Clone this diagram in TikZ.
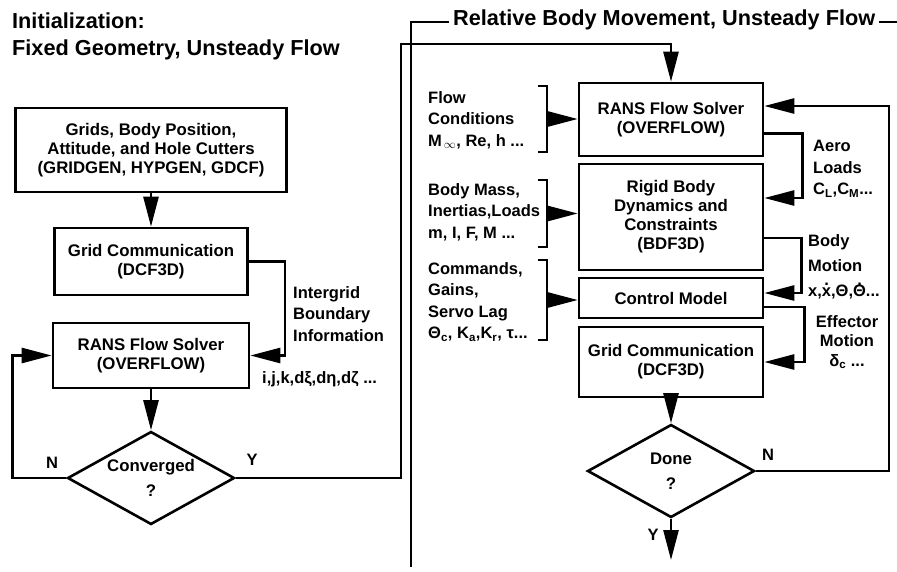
\documentclass[tikz,border=0pt]{standalone}
\usepackage{fontspec}
\setmainfont{Liberation Sans}
\usetikzlibrary{arrows.meta,shapes.geometric}
\NewDocumentCommand{\drawbracket}{m m m m}{
    \def\bx{#1}
    \def\btop{#2}
    \def\bbot{#3}
    \draw[bracket] (\bx-9,\btop) -- (\bx,\btop) -- (\bx,\bbot) -- (\bx-9,\bbot);
    \coordinate (#4) at (\bx,{(\btop+\bbot)/2});
}
\newcommand{\dotover}[1]{\ooalign{#1\cr\hidewidth\raisebox{0.66em}{.}\hidewidth\cr}}

\begin{document}
\begin{tikzpicture}[x=1pt, y=-1pt,
        box/.style={draw, line width=2.6pt, inner sep=0pt, align=center,
            font=\fontsize{16.8}{19}\selectfont\bfseries},
        decision/.style={diamond, draw, line width=2.6pt, aspect=1.8, inner sep=0pt,
            minimum width=167pt, minimum height=93pt, align=center,
            font=\fontsize{16.8}{25}\selectfont\bfseries},
        lbl/.style={inner sep=0pt, align=left, anchor=north west,
            font=\fontsize{16.5}{21.5}\selectfont\bfseries},
        yn/.style={inner sep=0pt, font=\fontsize{16.5}{19}\selectfont\bfseries},
        heading/.style={inner sep=0pt, align=left, font=\fontsize{21.7}{27}\selectfont\bfseries},
        link/.style={line width=2.6pt},
        arr/.style={link, -{Triangle[length=30pt,width=15pt]}},
        bracket/.style={line width=2.6pt},
        frameline/.style={line width=1.2pt}]
        \useasboundingbox (0,0) rectangle (897,571);

        % initialization column
        \def\lx{151}
        \node[heading, anchor=north west] (ltitle) at (12,13) {Initialization:\\Fixed Geometry, Unsteady Flow};
        \node[box, minimum width=271pt, minimum height=84pt] (grids) at (\lx,150) {Grids, Body Position,\\Attitude, and Hole Cutters\\(GRIDGEN, HYPGEN, GDCF)};
        \node[box, minimum width=193pt, minimum height=67pt] (gc) at (\lx,261.5) {Grid Communication\\(DCF3D)};
        \node[box, minimum width=196pt, minimum height=65pt] (rans) at (\lx,355.5) {RANS Flow Solver\\(OVERFLOW)};
        \node[decision] (conv) at (\lx,478) {Converged\\?};
        \node[lbl] (intlbl) at (293,286) {Intergrid\\Boundary\\Information};
        \node[lbl, anchor=base west] (ijklbl) at (262,383) {i,j,k,dξ,dη,dζ ...};
        \node[yn] (convn) at (52,463) {N};
        \node[yn] (convy) at (252,460) {Y};

        \draw[arr] (grids) -- (gc);
        \draw[arr] (gc.east) -- ++(36,0) |- (rans.east);
        \draw[arr] (rans) -- (conv);
        \draw[arr] (conv.west) -- ++(-54,0) |- (rans.west);

        % relative movement column
        \def\rx{671}
        \coordinate (ftl) at (411,22);
        \coordinate (fbl) at (411,567);
        \coordinate (ftr) at (897,22);
        \node[heading, inner xsep=4pt, anchor=base west] (rtitle) at (449,25) {Relative Body Movement, Unsteady Flow};
        \draw[frameline] (fbl) -- (ftl) -- (ftl -| rtitle.west);
        \draw[frameline] (rtitle.east |- ftr) -- (ftr);

        \node[box, minimum width=184pt, minimum height=73pt] (r1) at (\rx,119.5) {RANS Flow Solver\\(OVERFLOW)};
        \node[box, minimum width=184pt, minimum height=106pt] (r2) at (\rx,217) {Rigid Body\\Dynamics and\\Constraints\\(BDF3D)};
        \node[box, minimum width=184pt, minimum height=40pt] (r3) at (\rx,298) {Control Model};
        \node[box, minimum width=184pt, minimum height=70pt] (r4) at (\rx,362) {Grid Communication\\(DCF3D)};
        \node[decision] (done) at (\rx,471) {Done\\?};
        \coordinate (exit) at (\rx,560);

        \coordinate (yup) at (401,44);
        \draw[arr] (conv.east) -| (yup) -| (r1.north);

        \node[lbl] (flowlbl) at (428,91) {Flow\\Conditions\\M\textsubscript{\,$\infty$}, Re, h ...};
        \node[lbl] (masslbl) at (428,183) {Body Mass,\\Inertias,Loads\\m, I, F, M ...};
        \node[lbl] (cmdlbl) at (428,262) {Commands,\\Gains,\\Servo Lag\\Θ\textsubscript{c}, K\textsubscript{a},K\textsubscript{r}, τ...};
        \drawbracket{547}{86}{152}{flowin}
        \drawbracket{547}{180}{247}{massin}
        \drawbracket{547}{260}{340}{cmdin}
        \draw[arr] (flowin) -- (flowin -| r1.west);
        \draw[arr] (massin) -- (massin -| r2.west);
        \draw[arr] (cmdin) -- (cmdin -| r3.west);

        \node[lbl] (aerolbl) at (813,140) {Aero\\Loads\\C\textsubscript{L},C\textsubscript{M}...};
        \node[lbl, font=\fontsize{16.5}{25}\selectfont\bfseries] (motionlbl) at (808,234) {Body\\Motion\\x,\dotover{x},Θ,\dotover{Θ}...};
        \node[lbl, align=center, anchor=north, font=\fontsize{16.5}{19.5}\selectfont\bfseries] (efflbl) at (847,315) {Effector\\Motion\\δ\textsubscript{c} ...};
        \node[yn] (donen) at (768,455) {N};
        \node[yn] (doney) at (653,535) {Y};

        \draw[arr] ([yshift=-14pt]r1.east) -- ++(38,0) |- ([yshift=19pt]r2.east);
        \draw[arr] ([yshift=-21pt]r2.east) -- ++(37,0) |- ([yshift=5pt]r3.east);
        \draw[arr] ([yshift=-9pt]r3.east) -- ++(40,0) |- (r4.east);
        \draw[arr] (r4) -- (done);
        \draw[arr] (done.east) -- ++(133,0) |- ([yshift=13.5pt]r1.east);
        \draw[arr] (done) -- (exit);
\end{tikzpicture}
\end{document}
